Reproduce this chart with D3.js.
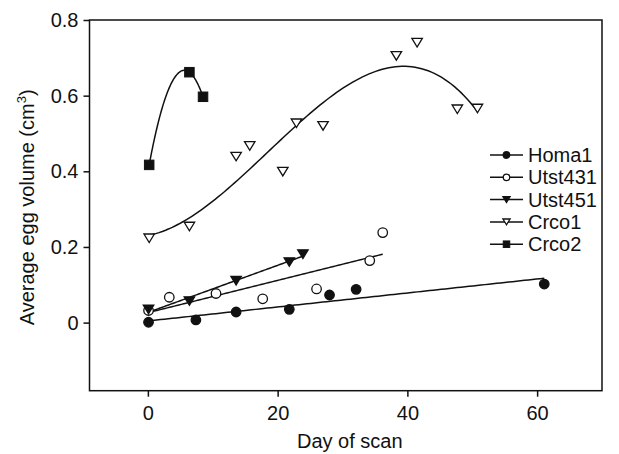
<!DOCTYPE html>
<html><head><meta charset="utf-8">
<script src="https://cdn.jsdelivr.net/npm/d3@7"></script>
<style>
body{margin:0;background:#fff}
text{font-family:Arial,"Liberation Sans",Helvetica,sans-serif;fill:#111}
</style>
</head><body>
<svg id="chart" width="619" height="454"></svg>
<script>
// ---- data ----
const seriesNames = ["Homa1", "Utst431", "Utst451", "Crco1", "Crco2"];
const homa1Days   = [0.1, 7.4, 13.6, 21.8, 28.0, 32.1, 61.1];
const homa1Vol    = [0.001, 0.007, 0.028, 0.035, 0.073, 0.088, 0.102];
const utst431Days = [0.1, 3.3, 10.5, 17.7, 26.0, 34.2, 36.2];
const utst431Vol  = [0.032, 0.067, 0.077, 0.063, 0.089, 0.164, 0.238];
const utst451Days = [0.1, 6.4, 13.6, 21.8, 23.9];
const utst451Vol  = [0.035, 0.057, 0.111, 0.160, 0.181];
const crco1Days   = [0.2, 6.4, 13.6, 15.7, 20.8, 22.9, 27.0, 38.3, 41.5, 47.7, 50.8];
const crco1Vol    = [0.223, 0.254, 0.439, 0.467, 0.399, 0.527, 0.520, 0.705, 0.740, 0.564, 0.566];
const crco2Days   = [0.2, 6.4, 8.5];
const crco2Vol    = [0.417, 0.662, 0.597];
const fitDegrees  = [1, 1, 1, 3, 2];   // regression order per series
const xTicks = [0, 20, 40, 60];
const xTickLabels = ["0", "20", "40", "60"];
const yTicks = [0, 0.2, 0.4, 0.6, 0.8];
const yTickLabels = ["0", "0.2", "0.4", "0.6", "0.8"];
const xTitle = "Day of scan";

const series = [
  {name: seriesNames[0], days: homa1Days,   vol: homa1Vol,   sym: "circle",   fill: true},
  {name: seriesNames[1], days: utst431Days, vol: utst431Vol, sym: "circle",   fill: false},
  {name: seriesNames[2], days: utst451Days, vol: utst451Vol, sym: "triangle", fill: true},
  {name: seriesNames[3], days: crco1Days,   vol: crco1Vol,   sym: "triangle", fill: false},
  {name: seriesNames[4], days: crco2Days,   vol: crco2Vol,   sym: "square",   fill: true}
];

// ---- layout ----
const L = 89.5, R = 602, T = 20, B = 390.7;
const FS = 20;
const svg = d3.select("#chart");
const x = d3.scaleLinear().domain([-9, 70]).range([L, R]);
const y = d3.scaleLinear().domain([-0.18, 0.8]).range([B, T]);

// polynomial least squares (Gauss-Jordan on normal equations)
function polyfit(xs, ys, deg) {
  const n = deg + 1;
  const A = Array.from({length: n}, () => new Array(n + 1).fill(0));
  for (let k = 0; k < xs.length; k++) {
    for (let i = 0; i < n; i++) {
      for (let j = 0; j < n; j++) A[i][j] += Math.pow(xs[k], i + j);
      A[i][n] += ys[k] * Math.pow(xs[k], i);
    }
  }
  for (let i = 0; i < n; i++) {
    let p = i;
    for (let r = i + 1; r < n; r++) { if (Math.abs(A[r][i]) > Math.abs(A[p][i])) p = r; }
    const tmp = A[i]; A[i] = A[p]; A[p] = tmp;
    for (let r = 0; r < n; r++) {
      if (r === i) continue;
      const f = A[r][i] / A[i][i];
      for (let c = i; c <= n; c++) A[r][c] -= f * A[i][c];
    }
  }
  return A.map((row, i) => row[n] / row[i]);
}
const evalPoly = (c, t) => c.reduce((s, ci, i) => s + ci * Math.pow(t, i), 0);

// frame
svg.append("rect").attr("x", L).attr("y", T).attr("width", R - L).attr("height", B - T)
  .attr("fill", "none").attr("stroke", "#111").attr("stroke-width", 1.5);

// axes
const xAxis = svg.append("g").attr("transform", `translate(0,${B})`)
  .call(d3.axisBottom(x).tickValues(xTicks).tickSize(6).tickPadding(5)
    .tickFormat((d, i) => xTickLabels[i]));
const yAxis = svg.append("g").attr("transform", `translate(${L},0)`)
  .call(d3.axisLeft(y).tickValues(yTicks).tickSize(6).tickPadding(5)
    .tickFormat((d, i) => yTickLabels[i]));
[xAxis, yAxis].forEach(g => {
  g.select(".domain").remove();
  g.selectAll(".tick line").attr("stroke", "#111").attr("stroke-width", 1.5);
  g.selectAll(".tick text").attr("font-size", FS).attr("fill", "#111")
    .style("font-family", "Arial, 'Liberation Sans', sans-serif");
});
xAxis.selectAll(".tick text").attr("y", 29.3).attr("dy", 0);

// titles
svg.append("text").attr("x", (L + R) / 2 + 4).attr("y", 448).attr("text-anchor", "middle")
  .attr("font-size", FS).text(xTitle);
const yt = svg.append("text").attr("transform", `translate(34,${(T + B) / 2 + 2}) rotate(-90)`)
  .attr("text-anchor", "middle").attr("font-size", FS);
yt.append("tspan").text("Average egg volume (cm");
yt.append("tspan").attr("font-size", 13).attr("dy", -8).text("3");
yt.append("tspan").attr("dy", 8).text(")");

// fits
const lineGen = d3.line().x(d => x(d[0])).y(d => y(d[1]));
series.forEach((s, i) => {
  const c = polyfit(s.days, s.vol, fitDegrees[i]);
  const [x0, x1] = d3.extent(s.days);
  const pts = d3.range(0, 101).map(k => {
    const t = x0 + (x1 - x0) * k / 100;
    return [t, evalPoly(c, t)];
  });
  svg.append("path").attr("d", lineGen(pts)).attr("fill", "none")
    .attr("stroke", "#111").attr("stroke-width", 1.5);
});

// symbols
function drawSym(g, sym, fill, cx, cy, size) {
  const fc = fill ? "#111" : "#fff";
  if (sym === "circle") {
    g.append("circle").attr("cx", cx).attr("cy", cy).attr("r", size / 2)
      .attr("fill", fc).attr("stroke", "#111").attr("stroke-width", 1.3);
  } else if (sym === "square") {
    g.append("rect").attr("x", cx - size / 2).attr("y", cy - size / 2)
      .attr("width", size).attr("height", size)
      .attr("fill", fc).attr("stroke", "#111").attr("stroke-width", 1);
  } else {
    const w = size * 1.1, h = size * 0.9;
    g.append("path").attr("d", `M${cx - w / 2},${cy - h / 2}L${cx + w / 2},${cy - h / 2}L${cx},${cy + h / 2}Z`)
      .attr("fill", fc).attr("stroke", "#111").attr("stroke-width", 1.3);
  }
}
series.forEach(s => {
  const g = svg.append("g");
  s.days.forEach((d, k) => drawSym(g, s.sym, s.fill, x(d), y(s.vol[k]), 9.5));
});

// legend
const legX = 490, legY0 = 155, legDy = 22.3;
series.forEach((s, i) => {
  const g = svg.append("g");
  const ly = legY0 + i * legDy;
  g.append("line").attr("x1", legX).attr("x2", legX + 33).attr("y1", ly).attr("y2", ly)
    .attr("stroke", "#111").attr("stroke-width", 1.5);
  drawSym(g, s.sym, s.fill, legX + 16.5, ly, 6.5);
  g.append("text").attr("x", legX + 38).attr("y", ly).attr("dy", "0.35em")
    .attr("font-size", FS).text(s.name);
});
</script>
</body></html>
